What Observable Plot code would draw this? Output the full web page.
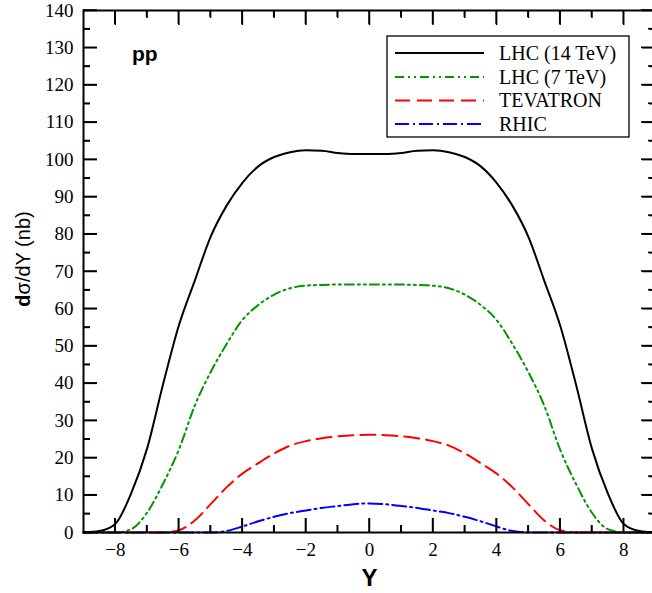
<!DOCTYPE html>
<html><head><meta charset="utf-8">
<script src="https://cdn.jsdelivr.net/npm/d3@7"></script>
<script src="https://cdn.jsdelivr.net/npm/@observablehq/plot@0.6"></script>
<style>body{margin:0;background:#fff;overflow:hidden} #chart{width:652px;height:593px}</style>
</head><body><div id="chart"></div>
<script>
// ---- data ----
const rapidity = [-9,-8.5,-8,-7.5,-7,-6.5,-6,-5.5,-5,-4.5,-4,-3.5,-3,-2.5,-2,-1.5,-1,-0.5,0,0.5,1,1.5,2,2.5,3,3.5,4,4.5,5,5.5,6,6.5,7,7.5,8,8.5,9];
const lhc14 = [0,0.4,2.3,10.5,22.5,39.6,55.5,67.5,79.3,87.6,93.8,98.2,100.7,102,102.5,102.4,101.8,101.5,101.5,101.5,101.8,102.4,102.5,102,100.7,98.2,93.8,87.6,79.3,67.5,55.5,39.6,22.5,10.5,2.3,0.4,0];
const lhc7 = [0,0,0,0.9,5.3,13,22.2,34,43,50.5,57,61,63.8,65.5,66.2,66.4,66.5,66.5,66.5,66.5,66.5,66.4,66.2,65.5,63.8,61,57,50.5,43,34,22.2,13,5.3,0.9,0,0,0];
const tevatron = [0,0,0,0,0,0,0.6,3.2,7.6,12.1,15.8,18.6,21.2,23.3,24.5,25.3,25.8,26.1,26.2,26.1,25.8,25.3,24.5,23.3,21.2,18.6,15.8,12.1,7.6,3.2,0.6,0,0,0,0,0,0];
const rhic = [0,0,0,0,0,0,0,0,0,0.4,1.6,3.0,4.2,5.2,5.9,6.6,7.1,7.6,7.8,7.6,7.1,6.6,5.9,5.2,4.2,3.0,1.6,0.4,0,0,0,0,0,0,0,0,0];
const seriesNames = ["LHC (14 TeV)", "LHC (7 TeV)", "TEVATRON", "RHIC"];
const xTickLabels = [-8,-6,-4,-2,0,2,4,6,8];
const xMinorTicks = [-7,-5,-3,-1,1,3,5,7];
const yTickLabels = [0,10,20,30,40,50,60,70,80,90,100,110,120,130,140];
const yMinorTicks = [5,15,25,35,45,55,65,75,85,95,105,115,125,135];

// ---- styles ----
const seriesStyle = [
  {values: lhc14, color: "#000000", dash: null},
  {values: lhc7, color: "#009600", dash: "9,4,2,4,2,4"},
  {values: tevatron, color: "#ff0000", dash: "15,7"},
  {values: rhic, color: "#0000ff", dash: "14,4,2,4"}
];
const data = seriesNames.flatMap((name, s) => rapidity.map((Y, i) => ({name, Y, v: seriesStyle[s].values[i]})));

const W = 652, H = 593, mL = 83, mR = -3, mT = 10, mB = 61;
const MAJ = 14, MIN = 7, TW = 1.5;
const blank = () => "";

// inward tick marks built from Plot axes (outward ticks shifted inside the frame)
const inwardTicks = [];
for (const [vals, len] of [[xTickLabels, MAJ], [xMinorTicks, MIN]]) {
  inwardTicks.push(Plot.axisX(vals, {anchor: "bottom", tickSize: len, dy: -len, tickFormat: blank, strokeWidth: TW, label: null}));
  inwardTicks.push(Plot.axisX(vals, {anchor: "top", tickSize: len, dy: len, tickFormat: blank, strokeWidth: TW, label: null}));
}
for (const [vals, len] of [[yTickLabels, MAJ], [yMinorTicks, MIN]]) {
  inwardTicks.push(Plot.axisY(vals, {anchor: "left", tickSize: len, dx: len, tickFormat: blank, strokeWidth: TW, label: null}));
  inwardTicks.push(Plot.axisY(vals, {anchor: "right", tickSize: len, dx: -len, tickFormat: blank, strokeWidth: TW, label: null}));
}

const plot = Plot.plot({
  width: W, height: H,
  marginLeft: mL, marginRight: mR, marginTop: mT, marginBottom: mB,
  style: {fontFamily: "'Liberation Serif', serif", fontSize: "19px"},
  x: {domain: [-9, 9]},
  y: {domain: [0, 140]},
  marks: [
    Plot.axisX(xTickLabels, {tickSize: 0, tickPadding: 10, fontSize: 19, label: null}),
    Plot.axisY(yTickLabels, {tickSize: 0, tickPadding: 10, fontSize: 19, label: null}),
    ...seriesNames.slice().reverse().map(name => {
      const st = seriesStyle[seriesNames.indexOf(name)];
      return Plot.line(data.filter(d => d.name === name), {
        x: "Y", y: "v", stroke: st.color, strokeWidth: 2,
        strokeDasharray: st.dash, curve: "monotone-x"
      });
    }),
    ...inwardTicks,
    Plot.frame({strokeWidth: 2})
  ]
});

const svg = d3.select(plot);
const xs = plot.scale("x"), ys = plot.scale("y");
const sx = d3.scaleLinear().domain(xs.domain).range(xs.range);
const sy = d3.scaleLinear().domain(ys.domain).range(ys.range);
const x0 = xs.range[0], x1 = xs.range[1], y0 = ys.range[0], y1 = ys.range[1];
// backup inward ticks (filled rects) at the same positions
const tg = svg.append("g");
function addRect(x, y, w, h) {
  tg.append("rect").attr("x", x).attr("y", y).attr("width", w).attr("height", h)
    .attr("fill", "#000").attr("stroke", "none");
}
for (const [vals, len] of [[xTickLabels, MAJ], [xMinorTicks, MIN]]) {
  for (const v of vals) {
    const px = sx(v);
    addRect(px - TW / 2, y0 - len, TW, len);
    addRect(px - TW / 2, y1, TW, len);
  }
}
for (const [vals, len] of [[yTickLabels, MAJ], [yMinorTicks, MIN]]) {
  for (const v of vals) {
    const py = sy(v);
    addRect(x0, py - TW / 2, len, TW);
    addRect(x1 - len, py - TW / 2, len, TW);
  }
}
// axis titles
svg.append("text")
  .attr("x", 369.5).attr("y", 586)
  .attr("text-anchor", "middle")
  .style("font-family", "'Liberation Sans', Arial, sans-serif")
  .style("font-weight", "bold").style("font-size", "24px")
  .text("Y");
const yl = svg.append("text")
  .attr("transform", "translate(30,259) rotate(-90)")
  .attr("text-anchor", "middle")
  .style("font-family", "'Liberation Sans', Arial, sans-serif")
  .style("font-size", "20px");
yl.append("tspan").style("font-weight", "bold").text("d");
yl.append("tspan").text("σ/dY (nb)");
// "pp" annotation
svg.append("text")
  .attr("x", 132).attr("y", 61)
  .attr("text-anchor", "start")
  .style("font-family", "'Liberation Sans', Arial, sans-serif")
  .style("font-weight", "bold").style("font-size", "21px")
  .text("pp");
// legend
const lg = svg.append("g");
lg.append("rect").attr("x", 387).attr("y", 36).attr("width", 242).attr("height", 101)
  .attr("fill", "white").attr("stroke", "black").attr("stroke-width", 1.3);
const rowY = [53, 77, 100.5, 124];
seriesNames.forEach((name, i) => {
  const st = seriesStyle[i];
  lg.append("line").attr("x1", 395).attr("x2", 484).attr("y1", rowY[i]).attr("y2", rowY[i])
    .attr("stroke", st.color).attr("stroke-width", 2)
    .attr("stroke-dasharray", st.dash);
  lg.append("text").attr("x", 499).attr("y", rowY[i] + 6.5)
    .attr("text-anchor", "start")
    .style("font-family", "'Liberation Serif', serif").style("font-size", "20px")
    .text(name);
});
document.getElementById("chart").appendChild(plot);
</script>
</body></html>
